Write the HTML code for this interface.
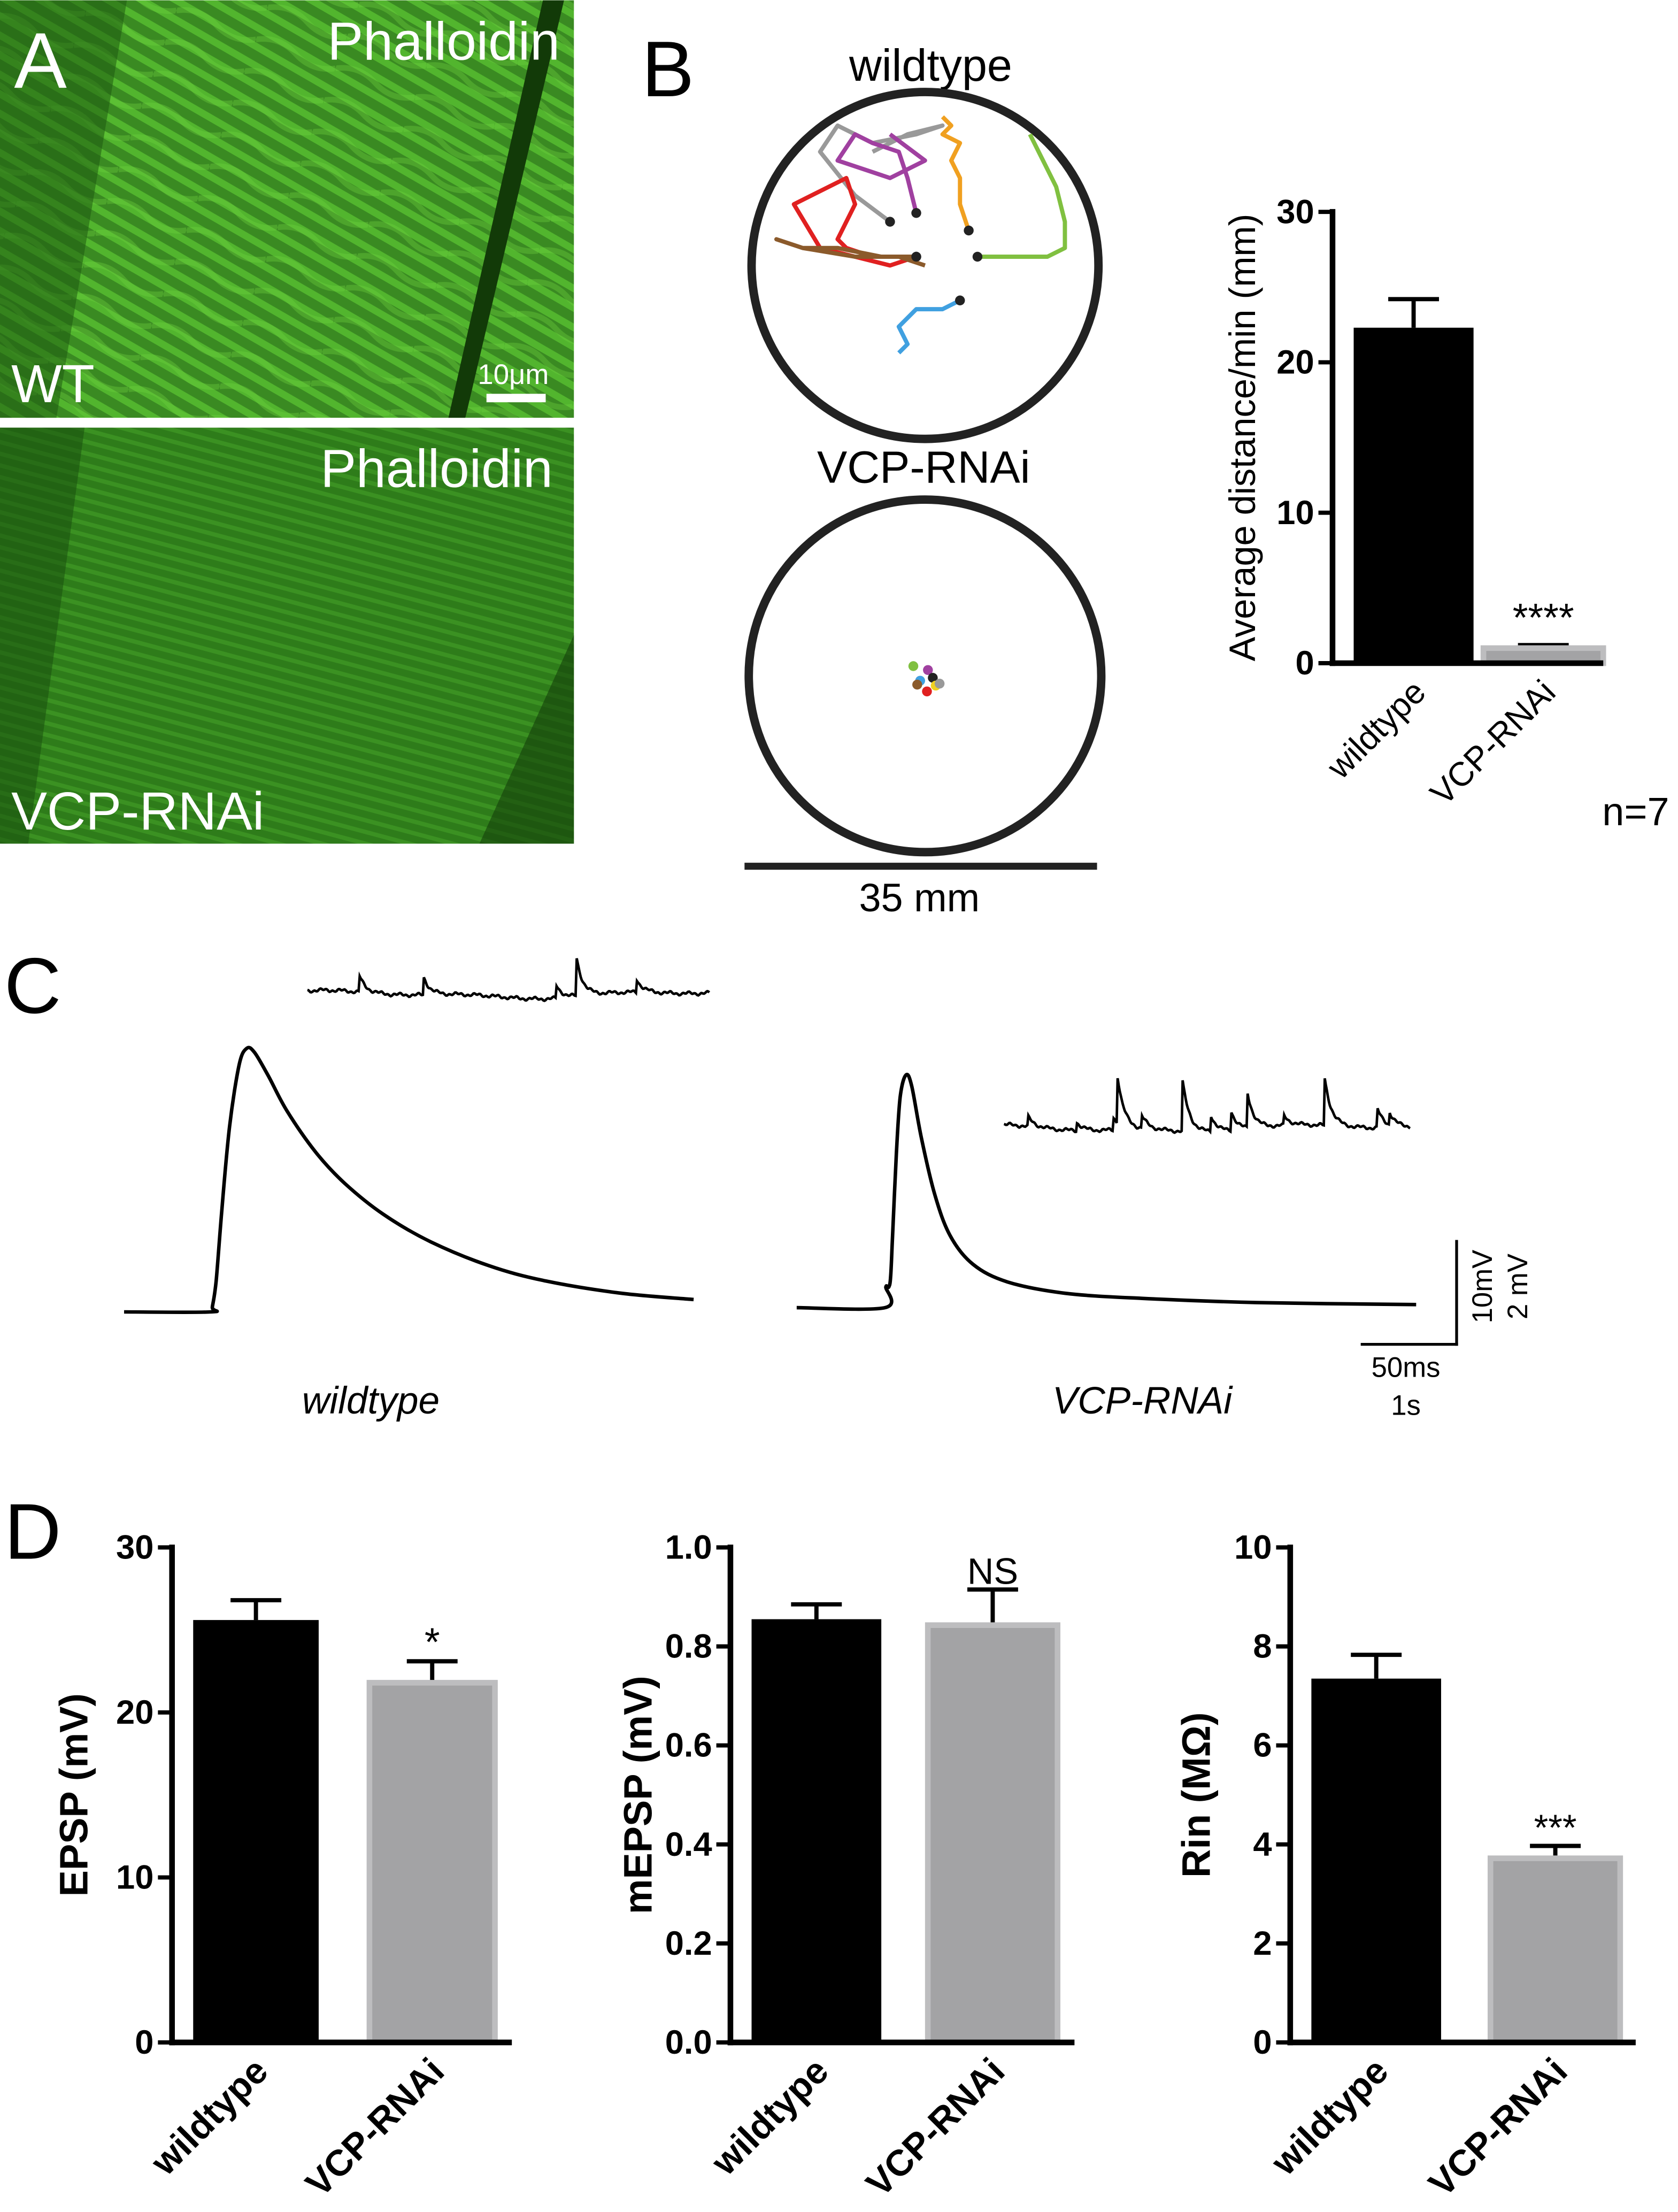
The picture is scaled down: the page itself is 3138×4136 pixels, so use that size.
<!DOCTYPE html>
<html><head><meta charset="utf-8">
<style>
html,body{margin:0;padding:0;background:#fff;}
svg{display:block;}
text{font-family:"Liberation Sans",sans-serif;}
</style></head>
<body>
<svg id="fig" width="3138" height="4136" viewBox="0 0 1190 1568" xmlns="http://www.w3.org/2000/svg">
<defs>
<pattern id="stripesA" width="12" height="12" patternUnits="userSpaceOnUse" patternTransform="rotate(-60)">
<rect width="12" height="12" fill="#3a8a22"/><rect width="5" height="12" fill="#52b52e"/>
</pattern>
<pattern id="wavesA" width="60" height="24" patternUnits="userSpaceOnUse" patternTransform="rotate(20)">
<path d="M0,12 Q15,4 30,12 T60,12" fill="none" stroke="#6fd440" stroke-width="4" opacity="0.35"/>
</pattern>
<pattern id="stripesB" width="8" height="8" patternUnits="userSpaceOnUse" patternTransform="rotate(-75)">
<rect width="8" height="8" fill="#2e7c1a"/><rect width="3" height="8" fill="#3b9122"/>
</pattern>
</defs>
<g id="panelA">
<rect x="0" y="0" width="407" height="296" fill="url(#stripesA)"/>
<rect x="0" y="0" width="407" height="296" fill="url(#wavesA)"/>
<polygon points="0,0 90,0 40,296 0,296" fill="#1d5a10" opacity="0.55"/>
<polygon points="385,0 400,0 330,296 318,296" fill="#123a08"/>
<rect x="0" y="303" width="407" height="295" fill="url(#stripesB)"/>
<polygon points="0,303 60,303 20,598 0,598" fill="#164a0c" opacity="0.5"/>
<polygon points="407,450 407,598 340,598" fill="#143f0a" opacity="0.6"/>
<text x="10" y="62" font-size="56" fill="#fff">A</text>
<text x="397" y="42" font-size="38" fill="#fff" text-anchor="end">Phalloidin</text>
<text x="8" y="285" font-size="38" fill="#fff">WT</text>
<text x="364" y="272" font-size="20" fill="#fff" text-anchor="middle">10μm</text>
<rect x="345" y="279" width="42" height="6" fill="#fff"/>
<text x="392" y="345" font-size="38" fill="#fff" text-anchor="end">Phalloidin</text>
<text x="8" y="588" font-size="38" fill="#fff">VCP-RNAi</text>
</g>
<g id="panelB">
<text x="455" y="68" font-size="56">B</text>
<text x="660" y="57" font-size="32" text-anchor="middle">wildtype</text>
<circle cx="656" cy="188" r="123" fill="none" stroke="#222" stroke-width="6"/>
<g id="tracksWT"></g>
<text x="655" y="342" font-size="32" text-anchor="middle">VCP-RNAi</text>
<circle cx="656" cy="479" r="125" fill="none" stroke="#222" stroke-width="6"/>
<g id="tracksVCP"></g>
<line x1="528" y1="614" x2="778" y2="614" stroke="#222" stroke-width="5"/>
<text x="652" y="646" font-size="28" text-anchor="middle">35 mm</text>
<g id="chartB"></g>
<text x="1160" y="585" font-size="28" text-anchor="middle">n=7</text>
</g>
<g id="panelC">
<text x="3" y="718" font-size="56">C</text>
<g id="traces"></g>
<line x1="1033" y1="879" x2="1033" y2="954" stroke="#000" stroke-width="2"/>
<line x1="965" y1="953" x2="1034" y2="953" stroke="#000" stroke-width="2"/>
<text font-size="20" text-anchor="middle" transform="translate(1058,912) rotate(-90)">10mV</text>
<text font-size="20" text-anchor="middle" transform="translate(1083,912) rotate(-90)">2 mV</text>
<text x="997" y="976" font-size="20" text-anchor="middle">50ms</text>
<text x="997" y="1003" font-size="20" text-anchor="middle">1s</text>
<text x="263" y="1002" font-size="27" font-style="italic" text-anchor="middle">wildtype</text>
<text x="810" y="1002" font-size="27" font-style="italic" text-anchor="middle">VCP-RNAi</text>
</g>
<g id="panelD">
<text x="3" y="1105" font-size="56">D</text>
<g id="chartD1"></g>
<g id="chartD2"></g>
<g id="chartD3"></g>
</g>
</svg>
<script>
// ---- Panel B data ----
const distCategories = ["wildtype", "VCP-RNAi"];
const distMeans = [22.3, 1.0];
const distErrors = [24.2, 1.2];
const distTicks = [0, 10, 20, 30];
// ---- Panel D data ----
const dCategories = ["wildtype", "VCP-RNAi"];
const epspMeans = [25.6, 21.8];
const epspErr = [26.8, 23.1];
const epspTicks = [0, 10, 20, 30];
const mepspMeans = [0.855, 0.843];
const mepspErr = [0.885, 0.915];
const mepspTicks = ["0.0", "0.2", "0.4", "0.6", "0.8", "1.0"];
const rinMeans = [7.35, 3.72];
const rinErr = [7.83, 3.97];
const rinTicks = [0, 2, 4, 6, 8, 10];
// ---- Panel C data (ms, mV) ----
const wtTimes = [0, 45, 46, 48, 51, 55, 60, 64, 68, 75, 85, 100, 115, 135, 160, 190, 220, 260, 297];
const wtVolts = [0, 0, 0.5, 3, 10, 18, 24, 25.6, 25.2, 23, 19.5, 15.5, 12.5, 9.5, 6.8, 4.5, 3, 1.8, 1.2];
const vcpTimes = [0, 46, 46.5, 48, 49, 50, 52, 54, 57, 60, 65, 72, 80, 92, 110, 140, 180, 240, 323];
const vcpVolts = [0, 0, 2, 2, 3, 7, 15, 20.5, 22.6, 21.5, 16.5, 11, 7, 4.2, 2.5, 1.4, 0.9, 0.5, 0.3];
const wtMiniTimes = [0.13, 0.29, 0.62, 0.67, 0.82];
const wtMiniAmps = [5, 5.5, 4, 12, 4];
const vcpMiniTimes = [0.06, 0.18, 0.27, 0.28, 0.34, 0.44, 0.51, 0.56, 0.6, 0.69, 0.79, 0.92, 0.95];
const vcpMiniAmps = [3, 2.5, 4, 15, 4, 16, 5, 6, 11, 3, 15, 6, 4];
// ---- Panel B tracks (arena coords, mm from centre) ----
const trackColors = ["#999", "#a040a0", "#f0a020", "#e02020", "#8b5a2b", "#40a0e0", "#80c040"];
const trackXs = [
 [-4,-8,-12,-10,-6,-1,2,-2,-6],
 [-1,-2,-3,-6,-8,-10,-4,0,-4],
 [5,4,4,3,4,2,3,2],
 [-1,-6,-9,-10,-8,-9,-15,-12,-8,-4,-1],
 [-1,-5,-10,-14,-17,-14,-8,-3,0],
 [4,2,-1,-2,-3,-2,-3],
 [6,10,14,16,16,15,13,12]
];
const trackYs = [
 [-5,-8,-13,-16,-14,-15,-16,-15,-13],
 [-6,-10,-13,-14,-15,-12,-10,-12,-15],
 [-4,-7,-10,-12,-14,-15,-16,-17],
 [-1,-1,-2,-3,-7,-10,-7,-2,-1,0,-1],
 [-1,-1,-2,-2,-3,-2,-1,-1,0],
 [4,5,5,6,7,9,10],
 [-1,-1,-1,-2,-5,-9,-13,-15]
];
const vcpDotXs = [-1.2, -0.5, 0.3, 0.8, 1.1, 0.2, -0.8, 1.5];
const vcpDotYs = [-1, 0.5, -0.6, 0.2, 1.0, 1.6, 0.9, 0.8];
const vcpDotColors = ["#80c040", "#40a0e0", "#a040a0", "#222", "#f0d020", "#e02020", "#8b5a2b", "#999"];

const NS = "http://www.w3.org/2000/svg";
function mk(tag, attrs, parent) {
  const e = document.createElementNS(NS, tag);
  for (const k in attrs) e.setAttribute(k, attrs[k]);
  parent.appendChild(e);
  return e;
}

(function () {
  const g = document.getElementById("tracksWT");
  const cx = 656, cy = 188, s = 6.2;
  for (let i = 0; i < trackXs.length; i++) {
    const pts = trackXs[i].map((x, j) => (cx + x * s) + "," + (cy + trackYs[i][j] * s)).join(" ");
    const pl = mk("polyline", { points: pts, fill: "none", stroke: trackColors[i], "stroke-width": 3, "stroke-linejoin": "round" }, g);
    
    
    const d = mk("circle", { cx: cx + trackXs[i][0] * s, cy: cy + trackYs[i][0] * s, r: 3.5, fill: "#222" }, g);
    
    
  }
  const g2 = document.getElementById("tracksVCP");
  for (let i = 0; i < vcpDotXs.length; i++) {
    const c = mk("circle", { cx: 656 + vcpDotXs[i] * 6.9, cy: 479 + vcpDotYs[i] * 6.9, r: 3.5, fill: vcpDotColors[i] }, g2);
    
    
  }
})();

function barChart(gid, o) {
  const g = document.getElementById(gid);
  const y = v => o.y0 - (v - o.vmin) / (o.vmax - o.vmin) * (o.y0 - o.y1);
  for (let i = 0; i < o.means.length; i++) {
    const bx = o.barX[i], bw = o.barW;
    const top = y(o.means[i]);
    const ex = bx + bw / 2;
    const el = mk("line", { x1: ex, y1: y(o.err[i]), x2: ex, y2: top, stroke: "#000", "stroke-width": 3 }, g);
    
    
    const cap = mk("line", { x1: ex - o.capW, y1: y(o.err[i]), x2: ex + o.capW, y2: y(o.err[i]), stroke: "#000", "stroke-width": 3 }, g);
    
    
    const fill = i === 0 ? "#000" : "#a3a3a5";
    const r = mk("rect", { x: bx, y: top, width: bw, height: o.y0 - top, fill: fill, stroke: i === 0 ? "#000" : "#bdbdbf", "stroke-width": i === 0 ? 0 : 4 }, g);
    
    
    const lbl = mk("text", { "font-size": o.catSize, "font-weight": o.bold ? "bold" : "normal", "text-anchor": "end", transform: "translate(" + (bx + bw / 2 + 10) + "," + (o.y0 + 22) + ") rotate(-45)" }, g);
    lbl.textContent = o.cats[i];
    
    
  }
  const ax = mk("line", { x1: o.x0, y1: o.y1 - 2, x2: o.x0, y2: o.y0 + 2, stroke: "#000", "stroke-width": 4 }, g);
  
  
  const xa = mk("line", { x1: o.x0 - 2, y1: o.y0, x2: o.xEnd, y2: o.y0, stroke: "#000", "stroke-width": 4 }, g);
  
  
  o.ticks.forEach(t => {
    const yy = y(parseFloat(t));
    const tk = mk("line", { x1: o.x0 - 10, y1: yy, x2: o.x0, y2: yy, stroke: "#000", "stroke-width": 3 }, g);
    
    
    const tl = mk("text", { x: o.x0 - 13, y: yy + 8, "font-size": 24, "font-weight": "bold", "text-anchor": "end" }, g);
    tl.textContent = t;
    
    
  });
  const yl = mk("text", { "font-size": o.labSize, "font-weight": o.bold ? "bold" : "normal", "text-anchor": "middle", transform: "translate(" + o.labX + "," + ((o.y0 + o.y1) / 2) + ") rotate(-90)" }, g);
  yl.textContent = o.label;
  
  
  if (o.sig) {
    const s = mk("text", { x: o.barX[1] + o.barW / 2, y: y(o.err[1]) - o.sigOff, "font-size": o.sigSize, "text-anchor": "middle" }, g);
    s.textContent = o.sig;
    
    
  }
}

barChart("chartB", { means: distMeans, err: distErrors, cats: distCategories, ticks: distTicks, vmin: 0, vmax: 30, y0: 470, y1: 150, x0: 945, xEnd: 1137, barX: [960, 1052], barW: 85, capW: 18, label: "Average distance/min (mm)", labX: 890, labSize: 26, catSize: 24, bold: false, sig: "****", sigOff: 10, sigSize: 28 });
barChart("chartD1", { means: epspMeans, err: epspErr, cats: dCategories, ticks: epspTicks, vmin: 0, vmax: 30, y0: 1448, y1: 1097, x0: 122, xEnd: 363, barX: [137, 262], barW: 89, capW: 18, label: "EPSP (mV)", labX: 62, labSize: 28, catSize: 26, bold: true, sig: "*", sigOff: 4, sigSize: 28 });
barChart("chartD2", { means: mepspMeans, err: mepspErr, cats: dCategories, ticks: mepspTicks, vmin: 0, vmax: 1, y0: 1448, y1: 1097, x0: 518, xEnd: 762, barX: [533, 658], barW: 92, capW: 18, label: "mEPSP (mV)", labX: 462, labSize: 28, catSize: 26, bold: true, sig: "NS", sigOff: 4, sigSize: 26 });
barChart("chartD3", { means: rinMeans, err: rinErr, cats: dCategories, ticks: rinTicks, vmin: 0, vmax: 10, y0: 1448, y1: 1097, x0: 915, xEnd: 1160, barX: [930, 1057], barW: 92, capW: 18, label: "Rin (MΩ)", labX: 858, labSize: 28, catSize: 26, bold: true, sig: "***", sigOff: 4, sigSize: 26 });

(function () {
  const g = document.getElementById("traces");
  const pxPerMs = 68 / 50, pxPerMv = 73 / 10;
  function trace(ts, vs, x0, y0) {
    const P = ts.map((t, i) => [x0 + t * pxPerMs, y0 - vs[i] * pxPerMv]);
    let d = "M" + P[0][0].toFixed(1) + "," + P[0][1].toFixed(1);
    for (let i = 0; i < P.length - 1; i++) {
      const p0 = P[Math.max(0, i - 1)], p1 = P[i], p2 = P[i + 1], p3 = P[Math.min(P.length - 1, i + 2)];
      const c1x = p1[0] + (p2[0] - p0[0]) / 6, c1y = p1[1] + (p2[1] - p0[1]) / 6;
      const c2x = p2[0] - (p3[0] - p1[0]) / 6, c2y = p2[1] - (p3[1] - p1[1]) / 6;
      d += "C" + c1x.toFixed(1) + "," + c1y.toFixed(1) + " " + c2x.toFixed(1) + "," + c2y.toFixed(1) + " " + p2[0].toFixed(1) + "," + p2[1].toFixed(1);
    }
    return mk("path", { d: d, fill: "none", stroke: "#000", "stroke-width": 2.5, "stroke-linejoin": "round" }, g);
  }
  const p1 = trace(wtTimes, wtVolts, 88, 930);
  
  
  const p2 = trace(vcpTimes, vcpVolts, 565, 927);
  
  
  function mini(x0, x1, yb, times, amps, seed) {
    let d = "";
    const n = 400;
    for (let k = 0; k <= n; k++) {
      const f = k / n;
      let v = Math.sin(f * 17 + seed) * 1.2 + Math.sin(f * 131 + seed * 3) * 0.8 + Math.sin(f * 7 + seed) * 2 + Math.sin(f * 411 + seed) * 0.6;
      times.forEach((t, i) => { if (f >= t) v += amps[i] * 2.2 * Math.exp(-(f - t) * 60); });
      d += (k ? "L" : "M") + (x0 + f * (x1 - x0)).toFixed(1) + "," + (yb - v).toFixed(1);
    }
    return mk("path", { d: d, fill: "none", stroke: "#000", "stroke-width": 1.8 }, g);
  }
  const m1 = mini(218, 503, 705, wtMiniTimes, wtMiniAmps, 1);
  
  
  const m2 = mini(712, 1000, 800, vcpMiniTimes, vcpMiniAmps, 2);
  
  
})();
</script>
</body></html>
